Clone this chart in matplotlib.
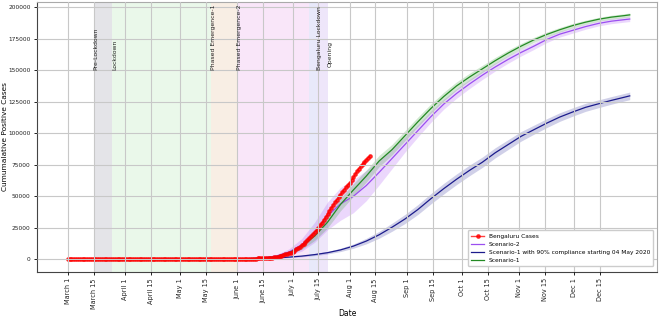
import matplotlib
matplotlib.use("Agg")
import matplotlib.pyplot as plt
import matplotlib.dates as mdates
import pandas as pd

# ---------------- data ----------------
cases_start = "2020-03-01"
bengaluru_cases = [
    # March
    0, 0, 0, 0, 0, 0, 0, 1, 1, 2, 4, 5, 6, 6, 8, 10, 11, 11, 14, 15, 18, 24, 30, 38, 41, 44, 46, 50, 52, 55, 58,
    # April
    60, 62, 66, 70, 74, 78, 82, 85, 88, 90, 92, 95, 98, 102, 105, 108, 112, 115, 118, 121,
    124, 127, 130, 134, 138, 141, 144, 147, 150, 152,
    # May
    155, 158, 160, 163, 167, 171, 175, 180, 185, 190, 196, 202, 208, 214, 220, 226, 232, 238, 245, 252,
    260, 268, 276, 284, 292, 300, 310, 320, 335, 350, 365,
    # June
    385, 410, 440, 470, 500, 530, 560, 590, 620, 650, 690, 730, 780, 830, 900, 980, 1070, 1170, 1300, 1450,
    1650, 1900, 2200, 2550, 2950, 3400, 3900, 4400, 4900, 5400,
    # July
    6000, 6900, 7900, 8900, 10000, 11100, 12400, 13700, 15100, 16600, 18200, 19800, 21400, 23100, 24900,
    26900, 29000, 31300, 33700, 36100, 38500, 40700, 42900, 45100, 47300, 49400, 51400, 53400, 55300,
    57100, 58800,
    # August
    60500, 62700, 65000, 67300, 69700, 72000, 73800, 75300, 77000, 78900, 80500, 82000,
]

model_dates = ["2020-06-01", "2020-06-08", "2020-06-15", "2020-06-22", "2020-06-29",
               "2020-07-06", "2020-07-13", "2020-07-20", "2020-07-27", "2020-08-03",
               "2020-08-10", "2020-08-17", "2020-08-24", "2020-08-31", "2020-09-07",
               "2020-09-14", "2020-09-21", "2020-09-28", "2020-10-05", "2020-10-12",
               "2020-10-19", "2020-10-26", "2020-11-02", "2020-11-09", "2020-11-16",
               "2020-11-23", "2020-11-30", "2020-12-07", "2020-12-14", "2020-12-21",
               "2020-12-28", "2020-12-31"]

scenario1 = [300, 600, 1100, 2000, 5200, 10500, 18500, 29500, 43500, 55000,
             66000, 78000, 87000, 98000, 109000, 119500, 129000, 137500, 144500, 151000,
             157500, 163500, 169000, 174000, 178300, 182000, 185300, 188000, 190300, 192000,
             193200, 193800]
scenario1_err = [100, 200, 400, 700, 1500, 2500, 3500, 4500, 5000, 5000,
                 4800, 4500, 4200, 4000, 3800, 3600, 3400, 3200, 3000, 2800,
                 2600, 2400, 2200, 2000, 1900, 1800, 1700, 1600, 1500, 1500,
                 1500, 1500]

scenario2 = [300, 650, 1300, 2600, 5800, 11500, 21500, 34500, 44000, 50000,
             58500, 69000, 80000, 91000, 102000, 113000, 123000, 131500, 139000, 146000,
             152500, 158500, 164000, 169000, 174300, 178500, 181500, 184500, 187000, 188800,
             190000, 190500]
scenario2_err = [100, 250, 500, 1000, 2500, 5000, 8000, 11000, 13000, 13000,
                 12000, 10000, 8000, 6000, 5000, 4500, 4000, 3800, 3600, 3400,
                 3200, 3000, 2800, 2600, 2400, 2300, 2200, 2100, 2000, 2000,
                 2000, 2000]

scenario1_90 = [200, 400, 700, 1100, 1800, 2600, 3800, 5300, 7500, 10500,
                14500, 19500, 25500, 32000, 39500, 48000, 56000, 63500, 70500, 77000,
                84500, 91000, 97500, 102800, 108000, 112800, 116800, 120500, 123300, 126000,
                128500, 129600]
scenario1_90_err = [50, 100, 150, 250, 400, 600, 800, 1000, 1300, 1700,
                    2200, 2700, 3200, 3600, 3900, 4100, 4200, 4200, 4200, 4100,
                    4000, 3900, 3800, 3600, 3500, 3400, 3300, 3200, 3100, 3000,
                    3000, 3000]

phase_labels = ["Pre-Lockdown", "Lockdown", "Phased Emergence-1", "Phased Emergence-2",
                "", "Bengaluru Lockdown"]
phase_starts = ["2020-03-15", "2020-03-25", "2020-05-18", "2020-06-01", "2020-07-10", "2020-07-14"]
phase_ends = ["2020-03-25", "2020-05-18", "2020-06-01", "2020-07-10", "2020-07-14", "2020-07-20"]
phase_colors = ["#e4e4e8", "#eaf8ea", "#f8eee4", "#f9e6f9", "#e8e9fa", "#eee6fa"]
opening_label = "Opening"
opening_date = "2020-07-20"

tick_dates = ["2020-03-01", "2020-03-15", "2020-04-01", "2020-04-15", "2020-05-01", "2020-05-15",
              "2020-06-01", "2020-06-15", "2020-07-01", "2020-07-15", "2020-08-01", "2020-08-15",
              "2020-09-01", "2020-09-15", "2020-10-01", "2020-10-15", "2020-11-01", "2020-11-15",
              "2020-12-01", "2020-12-15"]
tick_labels = ["March 1", "March 15", "April 1", "April 15", "May 1", "May 15", "June 1", "June 15",
               "July 1", "July 15", "Aug 1", "Aug 15", "Sep 1", "Sep 15", "Oct 1", "Oct 15",
               "Nov 1", "Nov 15", "Dec 1", "Dec 15"]
y_ticks = [0, 25000, 50000, 75000, 100000, 125000, 150000, 175000, 200000]

# ---------------- plot ----------------
fig = plt.figure(figsize=(6.6, 3.2), dpi=100)
ax = fig.add_axes([37 / 660, 1 - 272 / 320, 620 / 660, 270 / 320])

for lab, s, e, c in zip(phase_labels, phase_starts, phase_ends, phase_colors):
    ax.axvspan(pd.Timestamp(s), pd.Timestamp(e), color=c, lw=0, zorder=0.8)
    if lab:
        ax.text(pd.Timestamp(s), 150000, lab, rotation=90, ha="left", va="bottom",
                fontsize=4.4, color="#222222", zorder=3)
ax.text(pd.Timestamp(opening_date), 152500, opening_label, rotation=90, ha="left", va="bottom",
        fontsize=4.4, color="#222222", zorder=3)

md = pd.to_datetime(model_dates)

def band(vals, errs, color, lc, label, lw=0.9):
    lo = [v - e for v, e in zip(vals, errs)]
    hi = [v + e for v, e in zip(vals, errs)]
    ax.fill_between(md, lo, hi, color=color, alpha=0.22, lw=0, zorder=1.6)
    line, = ax.plot(md, vals, color=lc, lw=lw, label=label, zorder=2)
    return line

l_s2 = band(scenario2, scenario2_err, "#a64df5", "#9b4ff0", "Scenario-2")
l_s190 = band(scenario1_90, scenario1_90_err, "#2b2b9a", "#1c1c8c",
              "Scenario-1 with 90% compliance starting 04 May 2020")
l_s1 = band(scenario1, scenario1_err, "#2e9a2e", "#238a23", "Scenario-1")

cd = pd.date_range(cases_start, periods=len(bengaluru_cases), freq="D")
l_cases, = ax.plot(cd, bengaluru_cases, color="red", marker="o", ms=2.4, lw=1.0, alpha=0.75,
                   label="Bengaluru Cases", zorder=2.5)

ax.legend(handles=[l_cases, l_s2, l_s190, l_s1], loc="lower right", fontsize=4.2,
          framealpha=1, edgecolor="#cccccc", borderpad=0.6, labelspacing=0.5,
          handlelength=2.2, bbox_to_anchor=(0.999, 0.01))

ax.set_xticks(pd.to_datetime(tick_dates))
ax.set_xticklabels(tick_labels, rotation=90, fontsize=4.7, color="#222222")
ax.set_yticks(y_ticks)
ax.set_yticklabels([str(v) for v in y_ticks], fontsize=4.2, color="#222222")
ax.tick_params(axis="both", length=2.5, width=0.6, pad=2)

ax.set_xlim(mdates.date2num(pd.Timestamp("2020-03-01")) - 16.7,
            mdates.date2num(pd.Timestamp("2020-03-01")) + 319.8)
ax.set_ylim(-10000, 204000)

ax.grid(True, color="#c8c8c8", lw=0.8, zorder=1.5)
ax.set_axisbelow(False)
for sp in ax.spines.values():
    sp.set_linewidth(0.8)
    sp.set_color("#444444")
ax.spines["top"].set_color("#aaaaaa")
ax.spines["right"].set_color("#aaaaaa")

ax.set_xlabel("Date", fontsize=5.5)
ax.set_ylabel("Cumumalative Positive Cases", fontsize=5.3)
ax.xaxis.set_label_coords(0.5, -0.138)
ax.yaxis.set_label_coords(-0.047, 0.5)

fig.savefig("out.png", dpi=100)
